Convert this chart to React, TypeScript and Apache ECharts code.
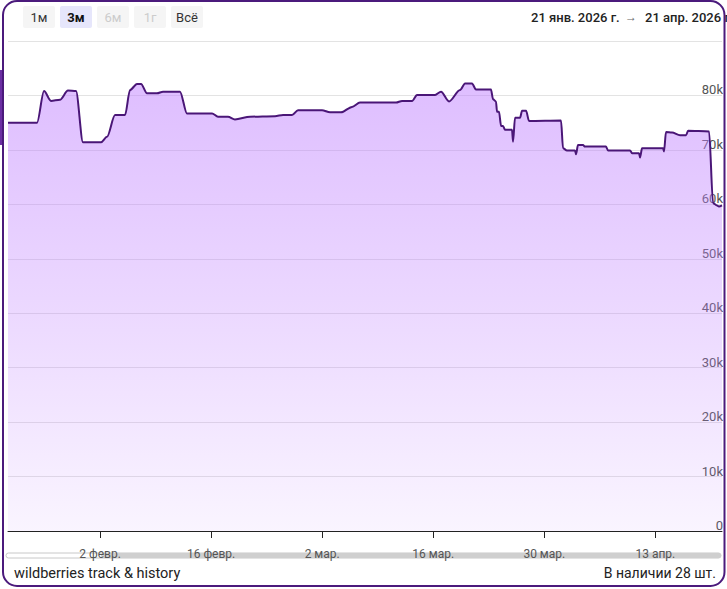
import React, { useEffect, useRef } from "react";
import * as echarts from "echarts";

// Days counted from 21 янв. 2026 00:00 (day 0), price in thousands of roubles
const days = [
  0.4, 4.06, 4.94, 5.82, 6.95, 7.96, 8.97, 9.85, 12.12, 12.88, 13.89, 15.15, 15.78, 16.66, 17.17,
  17.92, 19.18, 19.94, 22.08, 22.96, 26.12, 26.87, 28.13, 29.01, 30.91, 34.06, 35.07, 36.2, 36.96,
  39.98, 40.99, 42.38, 43.76, 44.77, 49.31, 50.07, 51.33, 51.96, 54.23, 54.98, 55.99, 57.38, 58.01,
  58.89, 59.39, 61.28, 61.54, 61.91, 62.04, 62.29, 62.55, 62.8, 63.05, 63.93, 64.06, 64.31, 64.94,
  65.2, 65.7, 66.08, 70.11, 70.36, 70.86, 71.87, 72.0, 72.25, 72.88, 73.13, 75.78, 76.03, 78.81,
  79.06, 79.94, 80.07, 80.32, 82.97, 83.09, 83.34, 84.1, 85.11, 85.87, 86.12, 88.77, 89.27, 89.77,
  90.02, 90.4,
];
const pricesK = [
  75.0, 75.0, 80.8, 79.0, 79.2, 80.9, 80.8, 71.4, 71.4, 72.4, 76.4, 76.4, 81.0, 82.1, 82.1,
  80.4, 80.4, 80.7, 80.7, 76.7, 76.7, 76.1, 76.1, 75.6, 76.1, 76.2, 76.4, 76.4, 77.3,
  77.3, 76.9, 76.9, 77.9, 78.7, 78.7, 79.0, 79.0, 80.1, 80.1, 80.7, 78.9, 81.0, 82.2,
  82.2, 81.1, 81.1, 79.3, 78.9, 77.0, 77.0, 74.4, 74.4, 73.7, 73.7, 71.5, 75.9, 75.9,
  77.2, 77.2, 75.3, 75.4, 70.3, 69.9, 69.9, 69.2, 70.9, 70.9, 70.6, 70.6, 69.9, 69.9,
  69.4, 69.4, 68.6, 70.3, 70.3, 69.7, 73.3, 73.2, 72.7, 72.7, 73.5, 73.4, 60.2, 59.8,
  59.6, 59.8,
];
const tickDays = [12, 26, 40, 54, 68, 82];
const tickLabels = ["2 февр.", "16 февр.", "2 мар.", "16 мар.", "30 мар.", "13 апр."];
const rangeButtons = ["1м", "3м", "6м", "1г", "Всё"];
const rangeStart = "21 янв. 2026 г.";
const rangeEnd = "21 апр. 2026 г.";
const footerLeft = "wildberries track & history";
const footerRight = "В наличии 28 шт.";

const FONT = "Roboto, 'Noto Sans', sans-serif";

export default function App() {
  const ref = useRef<HTMLDivElement>(null);
  useEffect(() => {
    document.body.style.margin = "0";
    const chart = echarts.init(ref.current!, null, { renderer: "svg" });
    const data = days.map((d, i) => [d, pricesK[i] * 1000]);

    const buttons: any[] = [];
    rangeButtons.forEach((b, i) => {
      const x = 23 + i * 37;
      const selected = i === 1;
      const disabled = i === 2 || i === 3;
      buttons.push({
        type: "rect",
        shape: { x, y: 6, width: 32, height: 22, r: 2 },
        style: { fill: selected ? "#e6e6fb" : "#f5f5f5" },
      });
      buttons.push({
        type: "text",
        x: x + 16,
        y: 17,
        style: {
          text: b,
          fill: disabled ? "#cccccc" : selected ? "#111" : "#333",
          font: `${selected ? "bold " : ""}13px ${FONT}`,
          align: "center",
          verticalAlign: "middle",
        },
      });
    });

    chart.setOption({
      animation: false,
      backgroundColor: "#ffffff",
      grid: { left: 8, right: 5, top: 41, bottom: 58 },
      xAxis: {
        type: "value",
        min: 0.4,
        max: 90.4,
        axisLine: { show: true, lineStyle: { color: "#222", width: 1 } },
        axisTick: {
          show: true,
          length: 7,
          lineStyle: { color: "#222" },
          customValues: tickDays,
        },
        axisLabel: {
          customValues: tickDays,
          formatter: (v: number) => tickLabels[tickDays.indexOf(Math.round(v))] ?? "",
          color: "#555",
          fontSize: 12,
          fontFamily: FONT,
          margin: 17,
        },
        splitLine: { show: false },
      },
      yAxis: {
        type: "value",
        position: "right",
        min: 0,
        max: 90000,
        interval: 10000,
        axisLine: { show: false },
        axisTick: { show: false },
        splitLine: { lineStyle: { color: "#e3e3e3", width: 1 } },
        axisLabel: {
          inside: true,
          margin: -1,
          color: "#555",
          fontSize: 13,
          fontFamily: FONT,
          verticalAlign: "bottom",
          padding: [0, 0, -1, 0],
          formatter: (v: number) => (v === 90000 ? "" : v === 0 ? "0" : `${v / 1000}k`),
        },
      },
      series: [
        {
          type: "line",
          data,
          smooth: 0.3,
          smoothMonotone: "x",
          showSymbol: false,
          symbol: "none",
          lineStyle: { color: "#4a1677", width: 2 },
          areaStyle: {
            opacity: 1,
            color: new echarts.graphic.LinearGradient(0, 0, 0, 1, [
              { offset: 0, color: "rgba(190,125,255,0.5)" },
              { offset: 0.5, color: "rgba(190,125,255,0.3)" },
              { offset: 1, color: "rgba(190,125,255,0.08)" },
            ]),
          },
          z: 1,
        },
      ],
      graphic: [
        // scrollbar
        {
          type: "rect",
          shape: { x: 6, y: 553, width: 715, height: 5, r: 2.5 },
          style: { fill: "#ffffff", stroke: "#c8c8c8", lineWidth: 1 },
          z: 0,
        },
        {
          type: "rect",
          shape: { x: 101, y: 553, width: 620, height: 5, r: 2.5 },
          style: { fill: "#cfcfcf" },
          z: 0,
        },
        ...buttons,
        {
          type: "text",
          x: 531,
          y: 17,
          style: { text: rangeStart, fill: "#222", font: `500 13px ${FONT}`, verticalAlign: "middle" },
        },
        {
          type: "text",
          x: 631,
          y: 17,
          style: { text: "→", fill: "#666", font: `12px ${FONT}`, align: "center", verticalAlign: "middle" },
        },
        {
          type: "text",
          x: 645,
          y: 17,
          style: { text: rangeEnd, fill: "#222", font: `500 13px ${FONT}`, verticalAlign: "middle" },
        },
        {
          type: "text",
          x: 14,
          y: 573,
          style: { text: footerLeft, fill: "#222", font: `14.5px ${FONT}`, verticalAlign: "middle" },
        },
        {
          type: "text",
          x: 716,
          y: 573,
          style: { text: footerRight, fill: "#222", font: `14px ${FONT}`, align: "right", verticalAlign: "middle" },
        },
        // background artifact at left edge
        {
          type: "rect",
          shape: { x: 0, y: 70, width: 2, height: 75 },
          style: { fill: "#6b2ea3" },
          z: 99,
        },
        // outer frame
        {
          type: "rect",
          shape: { x: 3, y: 1, width: 721.5, height: 585, r: 14 },
          style: { fill: "none", stroke: "#4b1a7c", lineWidth: 2 },
          z: 100,
        },
      ],
    });
    return () => chart.dispose();
  }, []);
  return <div ref={ref} style={{ width: 727, height: 589, position: "absolute", left: 0, top: 0 }} />;
}
